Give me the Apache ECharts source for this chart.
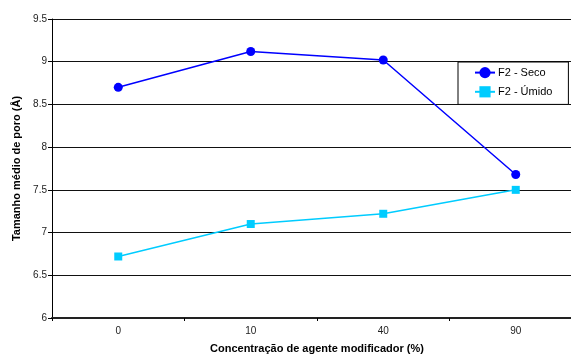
<!DOCTYPE html>
<html>
<head>
<meta charset="utf-8">
<script src="https://cdn.jsdelivr.net/npm/echarts@6/dist/echarts.min.js"></script>
<style>
html,body{margin:0;padding:0;background:#fff;}
#chart{width:571px;height:358px;}
</style>
</head>
<body>
<div id="chart"></div>
<script>
const categories = ['0', '10', '40', '90'];
const secoValues = [8.70, 9.12, 9.02, 7.68];
const umidoValues = [6.72, 7.10, 7.22, 7.50];
const seriesNames = ['F2 - Seco', 'F2 - Úmido'];

const FONT = '"Liberation Sans", Arial, sans-serif';
const chart = echarts.init(document.getElementById('chart'), null, {renderer: 'canvas'});
chart.setOption({
  animation: false,
  backgroundColor: '#ffffff',
  textStyle: {fontFamily: FONT},
  grid: {left: 52, width: 530, top: 19, bottom: 40, containLabel: false, outerBoundsMode: 'none'},
  legend: {
    orient: 'vertical',
    left: 458,
    top: 62,
    padding: [5, 16, 7, 16],
    itemGap: 8,
    itemWidth: 20,
    itemHeight: 14,
    borderColor: '#000',
    borderWidth: 1,
    backgroundColor: '#fff',
    textStyle: {fontFamily: FONT, fontSize: 11, color: '#000', padding: [0, 0, 0, -2]},
    data: seriesNames
  },
  xAxis: {
    type: 'category',
    data: categories,
    boundaryGap: true,
    name: 'Concentração de agente modificador (%)',
    nameLocation: 'middle',
    nameGap: 25,
    nameTextStyle: {fontFamily: FONT, fontSize: 11, fontWeight: 'bold', color: '#000'},
    axisLine: {lineStyle: {color: '#222', width: 2}},
    axisTick: {show: true, alignWithLabel: false, length: 3, lineStyle: {color: '#000'}},
    axisLabel: {fontFamily: FONT, fontSize: 10, color: '#222', margin: 8},
    splitLine: {show: false}
  },
  yAxis: {
    type: 'value',
    min: 6,
    max: 9.5,
    interval: 0.5,
    name: 'Tamanho médio de poro (Å)',
    nameLocation: 'middle',
    nameGap: 22,
    nameTextStyle: {fontFamily: FONT, fontSize: 11, fontWeight: 'bold', color: '#000'},
    axisLine: {show: true, lineStyle: {color: '#000', width: 1}},
    axisTick: {show: true, length: 4, lineStyle: {color: '#000'}},
    axisLabel: {fontFamily: FONT, fontSize: 10, color: '#222', margin: 5},
    splitLine: {show: true, lineStyle: {color: '#111', width: 1}}
  },
  series: [
    {
      name: seriesNames[0],
      type: 'line',
      data: secoValues,
      symbol: 'circle',
      symbolSize: 9,
      color: '#0000FF',
      lineStyle: {color: '#0000FF', width: 1.5},
      itemStyle: {color: '#0000FF'}
    },
    {
      name: seriesNames[1],
      type: 'line',
      data: umidoValues,
      symbol: 'rect',
      symbolSize: 8,
      color: '#00CCFF',
      lineStyle: {color: '#00CCFF', width: 1.5},
      itemStyle: {color: '#00CCFF'}
    }
  ]
});
</script>
</body>
</html>
